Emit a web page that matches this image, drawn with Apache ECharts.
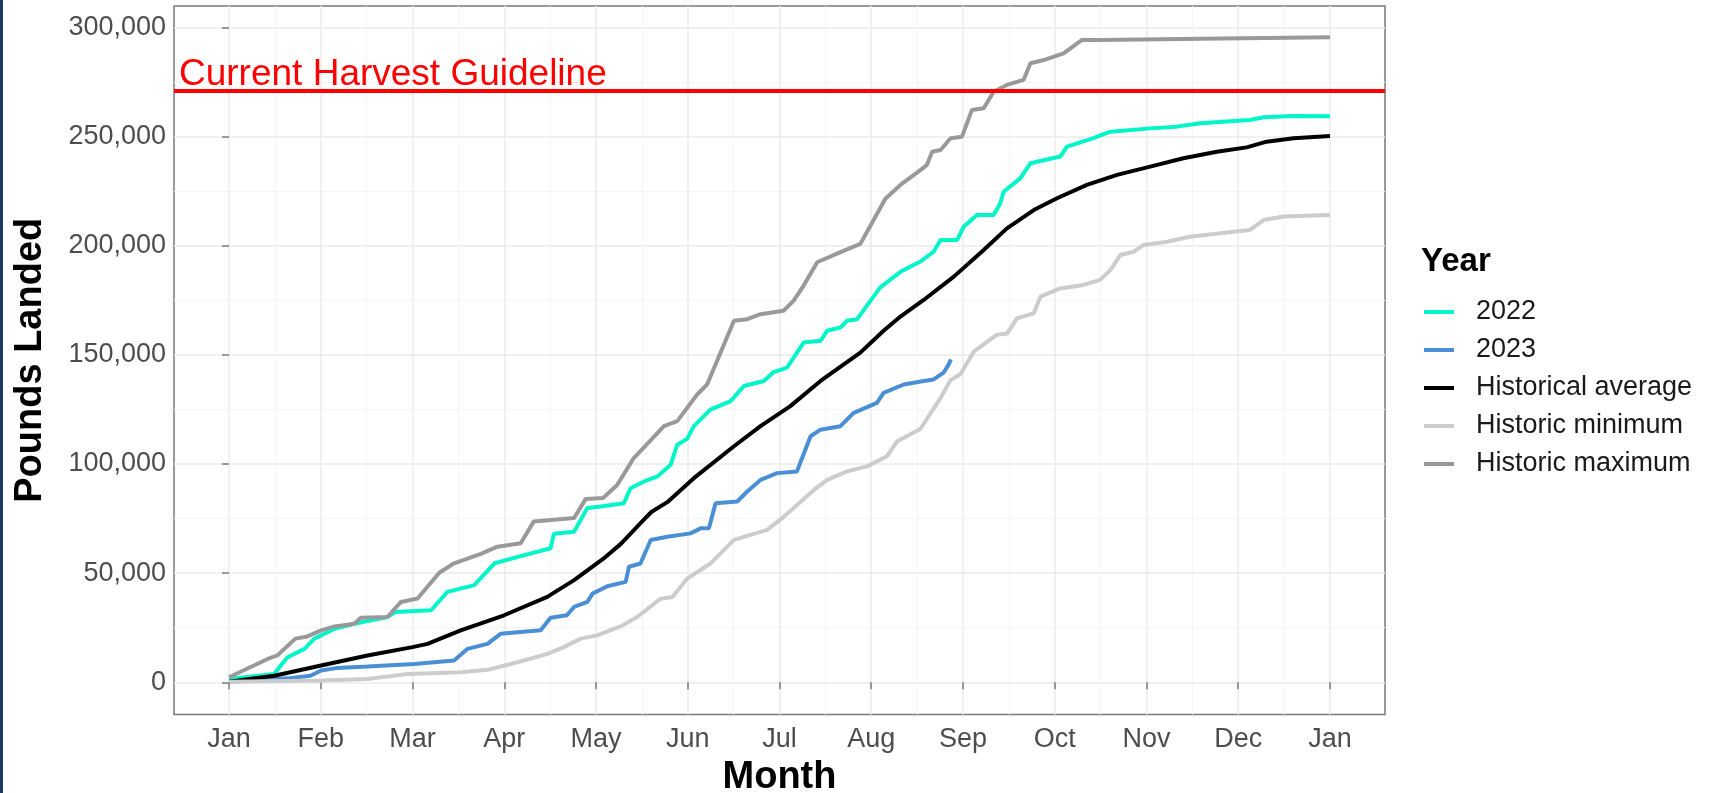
<!DOCTYPE html>
<html>
<head>
<meta charset="utf-8">
<script src="https://cdn.jsdelivr.net/npm/echarts@6/dist/echarts.min.js"></script>
<style>
html,body{margin:0;padding:0;background:#ffffff;}
#c{width:1711px;height:793px;}
#edge{position:absolute;left:0;top:0;width:3px;height:793px;background:#1f3864;}
</style>
</head>
<body>
<div id="c"></div>
<div id="edge"></div>
<script>
// ---- data (x = day of year, y = pounds landed, cumulative) ----
const monthLabels = ['Jan','Feb','Mar','Apr','May','Jun','Jul','Aug','Sep','Oct','Nov','Dec','Jan'];
const yTickValues = [0, 50000, 100000, 150000, 200000, 250000, 300000];
const yMinorValues = [25000, 75000, 125000, 175000, 225000, 275000];
const harvestGuideline = 271000;
const seriesNames = ['2022', '2023', 'Historical average', 'Historic minimum', 'Historic maximum'];

const y2022 = [[0,1500],[15,3800],[16.7,6900],[19.4,11500],[25,15300],[28.3,20000],[30.5,21500],[35,24500],[41.5,26800],[52.5,29900],[55,32200],[67,33000],[72.4,41400],[81.3,44500],[88,54500],[96.7,57800],[106.6,61400],[107.7,68000],[114.4,69000],[118.8,79800],[123.2,80500],[130.9,82000],[133.1,88900],[137.6,92000],[142,94300],[146.4,99600],[148.6,108800],[151.9,111500],[154.1,117300],[159.6,124900],[166.3,128800],[170.7,135700],[177.3,138000],[180.6,142100],[185,144100],[190.5,155600],[196.1,156400],[198.3,161000],[202.7,162500],[204.9,165600],[208.2,166300],[211.5,172500],[215.9,180900],[222.6,188000],[229.2,192700],[233.6,197200],[235.9,202600],[241.4,202600],[243.6,208700],[248,214000],[253.5,214000],[255.7,219400],[256.8,224700],[262.3,230800],[265.7,237700],[275.6,240800],[277.8,245300],[286.6,249200],[292.2,252200],[305.4,253700],[314.2,254500],[322,256000],[338.5,257500],[343,258800],[352.9,259400],[365,259300]];

const y2023 = [[0,300],[19.4,1800],[27,3000],[30.5,5400],[36,6600],[45.9,7200],[61.4,8400],[74.6,10000],[79,15300],[85.7,17600],[90,22200],[103.3,23800],[106.6,29600],[112,30700],[114.4,34500],[118.8,36800],[120.5,40600],[125.4,44000],[131.5,46000],[132.6,52900],[136.4,54400],[139.8,65200],[145.3,66700],[153,68200],[156.3,70500],[159.1,70600],[161.3,82000],[168.5,82800],[171.8,87400],[176.2,92700],[181.7,95800],[188.3,96600],[190,102700],[192.8,112700],[196.1,115700],[202.7,117300],[207.1,123400],[214.8,128000],[217,132600],[223.7,136400],[230.3,138000],[233.6,138700],[236.9,141800],[238.6,145600],[239.3,147900]];

const yAverage = [[0,300],[15,3000],[30.5,7700],[45.9,12300],[60.8,16100],[65.8,17600],[76.8,23800],[91.2,30700],[105.5,39100],[114.4,46800],[124,56500],[130,63500],[136.5,73000],[140,78000],[145.3,82500],[154.1,93500],[167.4,108100],[176.2,117300],[186.1,126500],[196.1,138000],[209.3,151000],[217,161000],[222.6,167500],[230.3,175100],[240.3,185800],[250.2,198000],[257.9,207900],[266.8,216300],[274.5,221700],[284.4,227800],[294.4,232400],[305.4,236200],[316.4,240000],[327.5,243000],[337.4,245000],[344,247600],[352.9,249200],[365,250200]];

const yMinimum = [[0,300],[30.5,800],[45.9,1500],[59.2,3800],[76.8,4600],[85.7,5700],[95.6,9200],[105.5,13000],[111,16100],[116.6,20000],[122,21500],[129.8,25600],[135.3,29900],[143.1,38300],[147,39100],[151.9,47500],[159.6,54400],[167.4,65200],[178.4,69800],[184,75900],[193.9,88100],[198.3,92700],[204.9,96600],[211.5,98900],[218.1,103500],[221.5,110400],[229.2,116000],[235.8,130000],[239.2,138400],[242.4,141000],[246.9,151400],[254.6,159200],[258,159800],[261.2,166700],[266.8,169000],[269,176600],[275.6,180400],[283.3,182000],[288.8,184300],[292.2,188800],[295.5,195700],[299.9,197200],[303.2,200300],[311,201800],[318.6,204100],[333,206400],[338.5,207200],[343,211700],[349.6,213300],[365,214000]];

const yMaximum = [[0,2300],[12.8,10700],[16,12300],[22,20000],[26,21000],[30.5,23800],[35,25600],[41.5,26800],[43.7,29600],[52.5,29900],[57,36800],[62.5,38400],[69.7,50200],[74.6,54500],[83.5,58800],[89,62100],[96.7,63700],[101,73600],[114.4,75200],[118.2,83900],[124,84400],[128.7,90400],[134.2,102700],[144.2,117300],[148.6,119600],[155.2,131800],[158.5,136400],[167.4,165600],[171.8,166300],[176.2,168600],[183.9,170200],[187.2,174800],[190.5,181700],[195,192400],[202.7,197000],[209.3,200800],[211.5,206200],[217.6,221500],[222.6,227800],[229.2,234600],[231.4,237000],[233.1,243000],[235.9,243800],[239.2,249200],[243,249900],[246.3,262100],[250.2,262900],[253.5,270500],[257.9,273600],[263.4,275900],[265.7,283500],[270.1,285000],[276.7,288100],[282.8,294200],[288.8,294200],[322,294700],[365,295400]];

// ---- chart ----
const monthSpan = 365 / 12;
const xMajor = monthLabels.map((m, i) => i * monthSpan);
const xMinor = monthLabels.slice(0, -1).map((m, i) => (i + 0.5) * monthSpan);
const FONT = '"Liberation Sans", Arial, sans-serif';
const frameGrey = '#7a7a7a';

const chart = echarts.init(document.getElementById('c'), null, {renderer: 'canvas'});

function lineSeries(name, data, color, width) {
  return {
    name: name, type: 'line', data: data, xAxisIndex: 0, yAxisIndex: 0,
    showSymbol: false, symbol: 'none', smooth: false,
    lineStyle: {color: color, width: width}, itemStyle: {color: color},
    emphasis: {disabled: true}, animation: false
  };
}

chart.setOption({
  backgroundColor: '#ffffff',
  animation: false,
  textStyle: {fontFamily: FONT},
  title: {
    text: 'Year', left: 1421, top: 245, padding: 0,
    textStyle: {fontFamily: FONT, fontSize: 33, fontWeight: 'bold', color: '#000000'}
  },
  legend: {
    orient: 'vertical', left: 1424, top: 297, padding: 0,
    itemWidth: 30, itemHeight: 4, itemGap: 8, icon: 'rect',
    selectedMode: false,
    data: seriesNames,
    textStyle: {fontFamily: FONT, fontSize: 27, color: '#1a1a1a', lineHeight: 30, padding: [0, 0, 0, 17]}
  },
  grid: {
    left: 174, right: 326, top: 6, bottom: 78.5,
    outerBoundsMode: 'none', containLabel: false,
    show: true, borderColor: frameGrey, borderWidth: 1.5, backgroundColor: '#ffffff'
  },
  xAxis: [{
    type: 'value', min: -18.25, max: 383.25,
    axisLine: {show: false},
    axisTick: {show: true, length: 7, lineStyle: {color: frameGrey, width: 1.5}, customValues: xMajor},
    axisLabel: {
      show: true, customValues: xMajor, margin: 12,
      fontFamily: FONT, fontSize: 27, color: '#4d4d4d',
      formatter: v => monthLabels[Math.round(v / monthSpan)]
    },
    splitLine: {show: true, lineStyle: {color: '#ebebeb', width: 1.5}},
    name: 'Month', nameLocation: 'middle', nameGap: 40,
    nameTextStyle: {fontFamily: FONT, fontSize: 38, fontWeight: 'bold', color: '#000000'}
  }, {
    type: 'value', min: -18.25, max: 383.25, position: 'bottom',
    axisLine: {show: false},
    axisTick: {show: false, customValues: xMinor},
    axisLabel: {show: false, customValues: xMinor},
    splitLine: {show: true, lineStyle: {color: '#f4f4f4', width: 1}}
  }],
  yAxis: [{
    type: 'value', min: -14750, max: 309750,
    axisLine: {show: false},
    axisTick: {show: true, length: 7, lineStyle: {color: frameGrey, width: 1.5}, customValues: yTickValues},
    axisLabel: {
      show: true, customValues: yTickValues, margin: 8,
      fontFamily: FONT, fontSize: 27, color: '#4d4d4d',
      formatter: v => v.toLocaleString('en-US')
    },
    splitLine: {show: true, lineStyle: {color: '#ebebeb', width: 1.5}},
    name: 'Pounds Landed', nameLocation: 'middle', nameGap: 124, nameRotate: 90,
    nameTextStyle: {fontFamily: FONT, fontSize: 38, fontWeight: 'bold', color: '#000000'}
  }, {
    type: 'value', min: -14750, max: 309750, position: 'left',
    axisLine: {show: false},
    axisTick: {show: false, customValues: yMinorValues},
    axisLabel: {show: false, customValues: yMinorValues},
    splitLine: {show: true, lineStyle: {color: '#f4f4f4', width: 1}}
  }],
  series: [
    lineSeries('2022', y2022, '#00f5c8', 4),
    lineSeries('2023', y2023, '#4a8fd6', 4),
    lineSeries('Historical average', yAverage, '#000000', 4),
    lineSeries('Historic minimum', yMinimum, '#cccccc', 4),
    lineSeries('Historic maximum', yMaximum, '#999999', 4),
    {
      name: 'guideline', type: 'line', data: [], xAxisIndex: 0, yAxisIndex: 0, z: 5,
      markLine: {
        silent: true, symbol: ['none', 'none'], animation: false,
        lineStyle: {color: '#ff0000', width: 4, type: 'solid'},
        label: {
          show: true, position: 'insideStartTop', distance: [5, -3],
          formatter: 'Current Harvest Guideline',
          fontFamily: FONT, fontSize: 37, color: '#ff0000'
        },
        data: [{yAxis: harvestGuideline}]
      }
    }
  ]
});
</script>
</body>
</html>
